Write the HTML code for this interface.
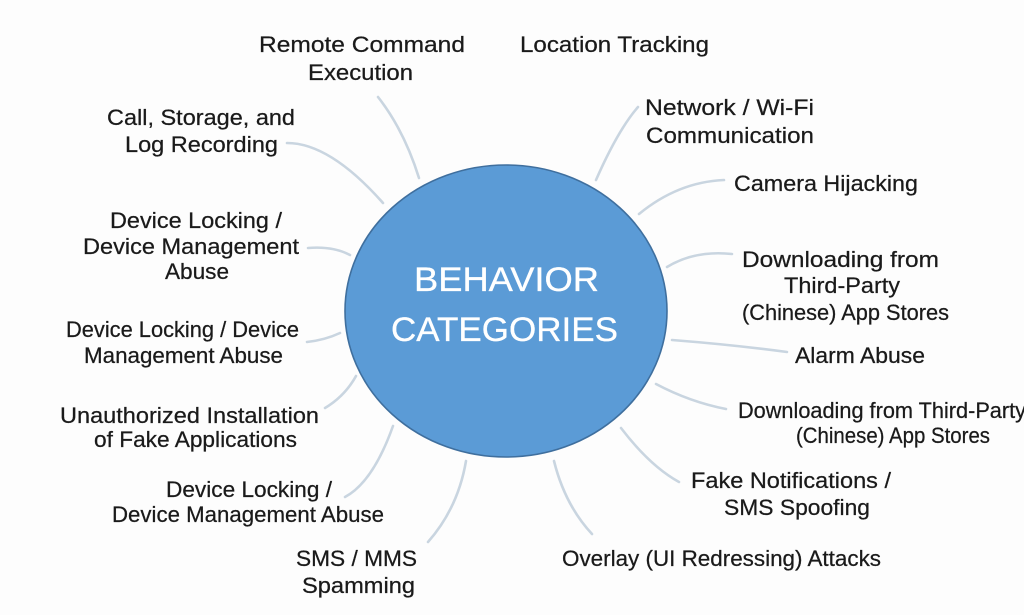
<!DOCTYPE html>
<html><head><meta charset="utf-8"><style>
html,body{margin:0;padding:0;background:#fdfdfd;}
svg{display:block;}
text{font-family:"Liberation Sans",sans-serif;fill:#1a1a1a;font-size:22px;stroke:#1a1a1a;stroke-width:0.25;}
.c{fill:#ffffff;stroke:#ffffff;stroke-width:0.3;font-size:34px;}
</style></head><body>
<svg width="1024" height="615" viewBox="0 0 1024 615" xmlns="http://www.w3.org/2000/svg">
<rect width="1024" height="615" fill="#fdfdfd"/>
<g fill="none" stroke="#c9d5e0" stroke-width="2.6" stroke-linecap="round">
<path d="M378,97 Q404,130 419,178"/>
<path d="M287,143 Q330,143 383,203"/>
<path d="M308,248 Q333,246 350,255"/>
<path d="M638,107 Q618,130 596,180"/>
<path d="M724,180 Q678,182 639,214"/>
<path d="M732,254 Q695,250 667,267"/>
<path d="M307,342 Q325,340 340,333"/>
<path d="M325,408 Q345,396 356,376"/>
<path d="M345,497 Q373,482 393,426"/>
<path d="M428,542 Q458,508 466,461"/>
<path d="M672,340 Q735,345 787,352"/>
<path d="M656,384 Q690,402 726,409"/>
<path d="M621,428 Q650,466 679,482"/>
<path d="M554,461 Q565,505 592,534"/>
</g>
<ellipse cx="506" cy="311" rx="161" ry="146" fill="#5b9bd6" stroke="#3f6f9e" stroke-width="1.6"/>
<text class="c" x="414" y="291" textLength="185" lengthAdjust="spacingAndGlyphs">BEHAVIOR</text>
<text class="c" x="391" y="341" textLength="227" lengthAdjust="spacingAndGlyphs">CATEGORIES</text>

<text x="259" y="52" textLength="206" lengthAdjust="spacingAndGlyphs">Remote Command</text>
<text x="308" y="80" textLength="105" lengthAdjust="spacingAndGlyphs">Execution</text>
<text x="107" y="125" textLength="188" lengthAdjust="spacingAndGlyphs">Call, Storage, and</text>
<text x="125" y="152" textLength="153" lengthAdjust="spacingAndGlyphs">Log Recording</text>
<text x="110" y="228" textLength="172" lengthAdjust="spacingAndGlyphs">Device Locking /</text>
<text x="83" y="254" textLength="216" lengthAdjust="spacingAndGlyphs">Device Management</text>
<text x="165" y="279" textLength="64" lengthAdjust="spacingAndGlyphs">Abuse</text>
<text x="66" y="337" textLength="233" lengthAdjust="spacingAndGlyphs">Device Locking / Device</text>
<text x="84" y="363" textLength="199" lengthAdjust="spacingAndGlyphs">Management Abuse</text>
<text x="60" y="423" textLength="259" lengthAdjust="spacingAndGlyphs">Unauthorized Installation</text>
<text x="94" y="447" textLength="203" lengthAdjust="spacingAndGlyphs">of Fake Applications</text>
<text x="166" y="497" textLength="166" lengthAdjust="spacingAndGlyphs">Device Locking /</text>
<text x="112" y="522" textLength="272" lengthAdjust="spacingAndGlyphs">Device Management Abuse</text>
<text x="296" y="566" textLength="121" lengthAdjust="spacingAndGlyphs">SMS / MMS</text>
<text x="302" y="593" textLength="113" lengthAdjust="spacingAndGlyphs">Spamming</text>

<text x="520" y="52" textLength="189" lengthAdjust="spacingAndGlyphs">Location Tracking</text>
<text x="645" y="115" textLength="169" lengthAdjust="spacingAndGlyphs">Network / Wi-Fi</text>
<text x="646" y="143" textLength="168" lengthAdjust="spacingAndGlyphs">Communication</text>
<text x="734" y="191" textLength="184" lengthAdjust="spacingAndGlyphs">Camera Hijacking</text>
<text x="742" y="267" textLength="197" lengthAdjust="spacingAndGlyphs">Downloading from</text>
<text x="784" y="293" textLength="116" lengthAdjust="spacingAndGlyphs">Third-Party</text>
<text x="742" y="320" textLength="207" lengthAdjust="spacingAndGlyphs">(Chinese) App Stores</text>
<text x="795" y="363" textLength="130" lengthAdjust="spacingAndGlyphs">Alarm Abuse</text>
<text x="738" y="418" textLength="288" lengthAdjust="spacingAndGlyphs">Downloading from Third-Party</text>
<text x="796" y="443" textLength="194" lengthAdjust="spacingAndGlyphs">(Chinese) App Stores</text>
<text x="691" y="488" textLength="200" lengthAdjust="spacingAndGlyphs">Fake Notifications /</text>
<text x="724" y="515" textLength="146" lengthAdjust="spacingAndGlyphs">SMS Spoofing</text>
<text x="562" y="566" textLength="319" lengthAdjust="spacingAndGlyphs">Overlay (UI Redressing) Attacks</text>
</svg>
</body></html>
